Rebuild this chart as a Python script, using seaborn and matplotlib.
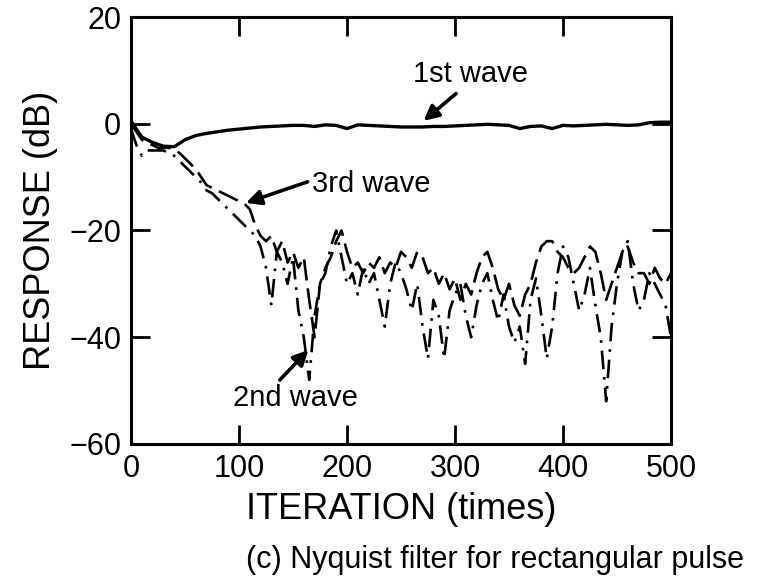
import numpy as np
import pandas as pd
import matplotlib
matplotlib.use("Agg")
import matplotlib.pyplot as plt
import seaborn as sns

# ---- data ----
x_first = list(range(0, 501, 10))
wave1 = [0.5, -2.5, -3.5, -4.2, -4.3, -3.0, -2.2, -1.8, -1.5, -1.2,
         -1.0, -0.8, -0.6, -0.5, -0.4, -0.3, -0.3, -0.5, -0.2, -0.3,
         -0.9, -0.2, -0.3, -0.4, -0.5, -0.6, -0.6, -0.6, -0.5, -0.5,
         -0.4, -0.3, -0.2, -0.1, -0.2, -0.3, -0.9, -0.5, -0.4, -0.9,
         -0.3, -0.4, -0.3, -0.2, -0.1, -0.2, -0.3, -0.2, 0.2, 0.3, 0.3]

x_step = list(range(0, 501, 5))
wave3 = [0, -1.5, -3, -3.5, -4, -4.5, -4.5, -4.5, -4.8, -5.5,
         -6.5, -7.5, -8.5, -10, -11.5, -12, -12.5, -13, -13.5, -14,
         -14.5, -15, -16, -19, -21, -22, -21, -24, -22, -26,
         -24, -27, -25, -33, -40, -30, -27, -25, -22, -20,
         -24, -27, -26, -28, -26, -27, -25, -28, -26, -27,
         -24, -25, -27, -24, -25, -28, -27, -30, -28, -31,
         -29, -33, -30, -32, -28, -25, -24, -27, -31, -33,
         -30, -34, -36, -32, -30, -26, -23, -22, -22, -24,
         -25, -27, -28, -27, -25, -23, -24, -28, -33, -30,
         -27, -24, -23, -26, -28, -28, -30, -27, -29, -30, -28]
wave2 = [-1, -4, -6, -5, -5, -5, -5, -5.5, -6, -7,
         -8, -9, -10, -11, -12.5, -13, -14, -15, -16, -17,
         -18, -19, -20, -21, -23, -27, -34, -24, -26, -30,
         -25, -35, -40, -48, -36, -30, -28, -23, -20, -25,
         -30, -28, -32, -27, -30, -28, -33, -38, -30, -26,
         -28, -31, -35, -30, -38, -44, -33, -36, -44, -35,
         -32, -30, -36, -40, -34, -30, -28, -33, -37, -32,
         -38, -41, -38, -45, -33, -29, -36, -44, -38, -28,
         -23, -25, -30, -35, -32, -27, -34, -40, -52, -38,
         -30, -24, -22, -30, -35, -33, -28, -30, -32, -34, -40]

labels = ["1st wave", "2nd wave", "3rd wave"]
x_ticks = [0, 100, 200, 300, 400, 500]
y_ticks = [-60, -40, -20, 0, 20]
y_ticklabels = ["\u221260", "\u221240", "\u221220", "0", "20"]

df1 = pd.DataFrame({"x": x_first, "y": wave1})
df2 = pd.DataFrame({"x": x_step, "y": wave2})
df3 = pd.DataFrame({"x": x_step, "y": wave3})

sns.set_style("ticks")
plt.rcParams["font.family"] = ["Liberation Sans", "DejaVu Sans"]
for k in ["text.color", "axes.labelcolor", "xtick.color", "ytick.color",
          "axes.edgecolor"]:
    plt.rcParams[k] = "black"

fig = plt.figure(figsize=(7.59, 5.88), dpi=100)
ax = fig.add_axes([0.1726, 0.245, 0.884 - 0.1726, 0.971 - 0.245])

sns.lineplot(data=df1, x="x", y="y", ax=ax, color="black", linewidth=2.4)
sns.lineplot(data=df2, x="x", y="y", ax=ax, color="black", linewidth=1.9)
sns.lineplot(data=df3, x="x", y="y", ax=ax, color="black", linewidth=1.9)
ax.lines[1].set_dashes([7, 3, 1, 3])
ax.lines[2].set_dashes([8, 3])

ax.set_xlim(0, 500)
ax.set_ylim(-60, 20)
ax.set_xticks(x_ticks)
ax.set_yticks(y_ticks)
ax.set_yticklabels(y_ticklabels)
ax.tick_params(direction="in", length=14, width=2, labelsize=22,
               top=True, right=True, pad=7)
for s in ax.spines.values():
    s.set_linewidth(2.2)
    s.set_visible(True)

ax.set_xlabel("ITERATION (times)", fontsize=26, labelpad=6)
ax.set_ylabel("RESPONSE (dB)", fontsize=26, labelpad=8)

akw = dict(arrowstyle="-|>,head_length=0.9,head_width=0.45", color="black", lw=2.6)
ax.annotate(labels[0], xy=(269, 0.2), xytext=(314, 9.3), fontsize=21,
            ha="center", va="center")
ax.annotate("", xy=(269, 0.2), xytext=(303, 6.0), arrowprops=akw)
ax.annotate(labels[2], xy=(104, -15), xytext=(168, -11.2), fontsize=21,
            ha="left", va="center")
ax.annotate("", xy=(104, -15), xytext=(166, -10.7), arrowprops=akw)
ax.annotate(labels[1], xy=(166, -42), xytext=(152, -51.4), fontsize=21,
            ha="center", va="center")
ax.annotate("", xy=(166, -42), xytext=(136, -48.4), arrowprops=akw)

fig.text(495 / 759, 1 - 560 / 588, "(c) Nyquist filter for rectangular pulse",
         fontsize=22, ha="center", va="center")

fig.savefig("out.png", dpi=100)
